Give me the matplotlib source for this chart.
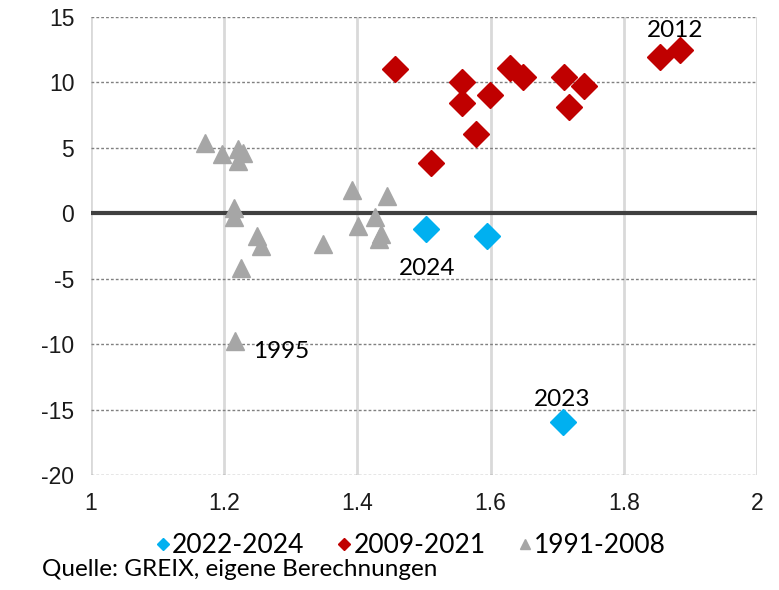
import matplotlib.pyplot as plt

plt.rcParams['axes.unicode_minus'] = False

# 2022-2024
x_neu = [1.503, 1.594, 1.709]
y_neu = [-1.17, -1.76, -15.94]

# 2009-2021
x_mid = [1.456, 1.557, 1.557, 1.599, 1.578, 1.510, 1.629, 1.648, 1.710, 1.740, 1.717, 1.854, 1.885]
y_mid = [11.05, 10.03, 8.43, 9.01, 6.03, 3.84, 11.13, 10.41, 10.41, 9.70, 8.12, 11.94, 12.45]

# 1991-2008
x_alt = [1.171, 1.196, 1.221, 1.228, 1.221, 1.214, 1.214, 1.250, 1.256, 1.225,
         1.216, 1.348, 1.392, 1.401, 1.426, 1.445, 1.436, 1.433]
y_alt = [5.35, 4.56, 4.94, 4.64, 4.00, 0.43, -0.28, -1.76, -2.52, -4.15,
         -9.75, -2.32, 1.81, -0.99, -0.28, 1.35, -1.60, -1.94]

labels = ["2022-2024", "2009-2021", "1991-2008"]
annot = [("2012", 1.885, 12.45), ("2024", 1.503, -1.17), ("1995", 1.216, -9.75), ("2023", 1.709, -15.94)]
annot_pos = {"2012": (1.877, 14.0), "2024": (1.505, -4.2), "1995": (1.286, -10.6), "2023": (1.708, -14.2)}

xticks = [1, 1.2, 1.4, 1.6, 1.8, 2]
yticks = [-20, -15, -10, -5, 0, 5, 10, 15]

blau = "#00B0F0"
rot = "#C00000"
grau = "#A6A6A6"

fig = plt.figure(figsize=(7.79, 5.90), dpi=100)
ax = fig.add_axes([0.1168, 0.1949, 0.8550, 0.7763])

ax.set_xlim(1, 2)
ax.set_ylim(-20, 15)
for s in ax.spines.values():
    s.set_visible(False)

for v in xticks:
    ax.axvline(v, color="#D9D9D9", lw=2, zorder=0)
for v in yticks:
    if v != 0:
        ax.axhline(v, color="#808080", lw=1, ls=(0, (2, 1.5)), zorder=0)
ax.axhline(0, color="#404040", lw=3, zorder=1)

ax.plot(x_neu, y_neu, ls="none", marker="D", ms=13, color=blau, label=labels[0], zorder=3)
ax.plot(x_mid, y_mid, ls="none", marker="D", ms=13, color=rot, label=labels[1], zorder=3)
ax.plot(x_alt, y_alt, ls="none", marker="^", ms=13, color=grau, label=labels[2], zorder=3)

for txt, xv, yv in annot:
    tx, ty = annot_pos[txt]
    ax.text(tx, ty, txt, ha="center", va="center", fontsize=17.5, family="Lato")

ax.set_xticks(xticks)
ax.set_xticklabels(["1", "1.2", "1.4", "1.6", "1.8", "2"])
ax.set_yticks(yticks)
ax.tick_params(length=0, labelsize=16.5, pad=12)
for t in ax.get_xticklabels() + ax.get_yticklabels():
    t.set_family("Liberation Sans")
    t.set_color("#1a1a1a")

leg = fig.legend(loc="center", bbox_to_anchor=(0.527, 0.075), ncol=3, frameon=False,
                 markerscale=0.5, handletextpad=0.05, columnspacing=1.2,
                 prop={"family": "Lato", "size": 19}, handlelength=0.6)

fig.text(0.054, 0.024, "Quelle: GREIX, eigene Berechnungen", fontsize=17.5, family="Lato")

fig.savefig("out.png", dpi=100)
